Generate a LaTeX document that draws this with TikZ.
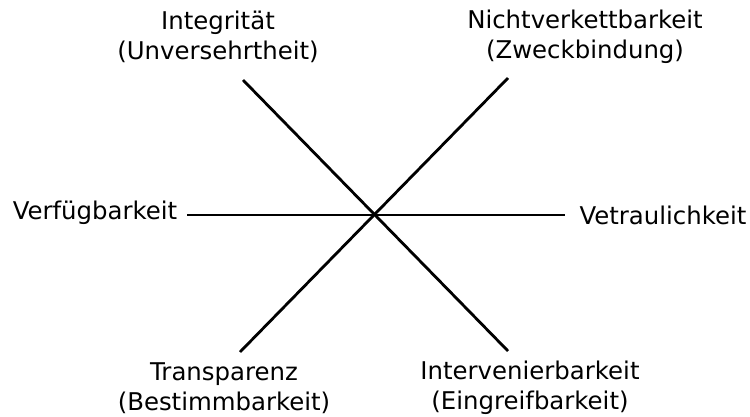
\documentclass[tikz,border=0pt]{standalone}
\usepackage{fontspec}
\setmainfont{DejaVu Sans}
\begin{document}
\begin{tikzpicture}[x=1pt,y=-1pt,
  lbl/.style={align=center,font=\fontsize{24.4}{30}\selectfont,inner sep=0pt},
  axis/.style={line width=2.8pt}]
\useasboundingbox (0,0) rectangle (750,416);
\coordinate (c) at (375,215);
\coordinate (h1) at (187,215);
\coordinate (h2) at (565,215);
\coordinate (d1a) at (243,80);
\coordinate (d1b) at (508,351);
\coordinate (d2a) at (508,78);
\coordinate (d2b) at (240,352);
\draw[axis] (h1) -- (h2);
\draw[axis] (d1a) -- (d1b);
\draw[axis] (d2a) -- (d2b);
\node[lbl] (int) at (218,37) {Integrität\\(Unversehrtheit)};
\node[lbl] (nv) at (585,37) {Nichtverkettbarkeit\\(Zweckbindung)};
\node[lbl] (vf) at (95,213) {Verfügbarkeit};
\node[lbl] (vt) at (663,215) {Vetraulichkeit};
\node[lbl] (tr) at (224,388) {Transparenz\\(Bestimmbarkeit)};
\node[lbl] (iv) at (530,388) {Intervenierbarkeit\\(Eingreifbarkeit)};
\end{tikzpicture}
\end{document}
